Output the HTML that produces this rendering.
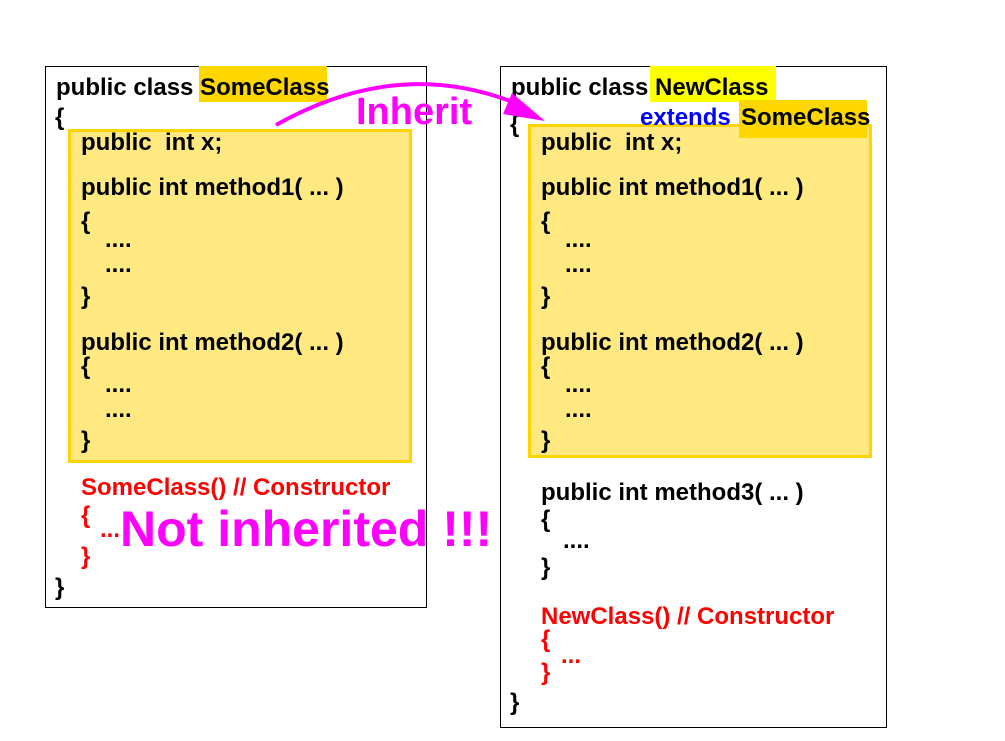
<!DOCTYPE html>
<html><head><meta charset="utf-8"><style>
body{margin:0;width:1005px;height:741px;background:#fff;position:relative;overflow:hidden;font-family:"Liberation Sans",Arial,sans-serif;font-weight:bold;}
.t{position:absolute;font-size:24px;line-height:24px;white-space:pre;color:#000;}
.r{color:#f00}
.box{position:absolute;border:1px solid #000;}
.y{position:absolute;background:#ffe980;border:3px solid #ffd400;box-sizing:border-box;}
.hl{position:absolute;}
</style></head><body>
<div class="box" style="left:45px;top:66px;width:380px;height:540px"></div>
<div class="box" style="left:500px;top:66px;width:385px;height:660px"></div>
<div class="hl" style="left:199px;top:66px;width:128px;height:36px;background:#ffd700"></div>
<div class="hl" style="left:650px;top:66px;width:126px;height:36px;background:#ffff00"></div>
<div class="y" style="left:68px;top:129px;width:344px;height:334px"></div>
<div class="y" style="left:528px;top:124px;width:344px;height:334px"></div>
<div class="hl" style="left:739px;top:100px;width:128px;height:38px;background:#ffd700"></div>

<div class="t" style="left:56px;top:76px">public class SomeClass</div>
<div class="t" style="left:55px;top:106px">{</div>
<div class="t" style="left:81px;top:131px">public  int x;</div>
<div class="t" style="left:81px;top:176px">public int method1( ... )</div>
<div class="t" style="left:81px;top:210px">{</div>
<div class="t" style="left:105px;top:228px">....</div>
<div class="t" style="left:105px;top:253px">....</div>
<div class="t" style="left:81px;top:285px">}</div>
<div class="t" style="left:81px;top:331px">public int method2( ... )</div>
<div class="t" style="left:81px;top:355px">{</div>
<div class="t" style="left:105px;top:373px">....</div>
<div class="t" style="left:105px;top:398px">....</div>
<div class="t" style="left:81px;top:429px">}</div>
<div class="t r" style="left:81px;top:476px">SomeClass() // Constructor</div>
<div class="t r" style="left:81px;top:504px">{</div>
<div class="t r" style="left:100px;top:518px">...</div>
<div class="t r" style="left:81px;top:545px">}</div>
<div class="t" style="left:55px;top:576px">}</div>

<div class="t" style="left:511px;top:76px">public class NewClass</div>
<div class="t" style="left:640px;top:106px;color:#0000ff">extends</div>
<div class="t" style="left:741px;top:106px">SomeClass</div>
<div class="t" style="left:510px;top:113px">{</div>
<div class="t" style="left:541px;top:131px">public  int x;</div>
<div class="t" style="left:541px;top:176px">public int method1( ... )</div>
<div class="t" style="left:541px;top:210px">{</div>
<div class="t" style="left:565px;top:228px">....</div>
<div class="t" style="left:565px;top:253px">....</div>
<div class="t" style="left:541px;top:285px">}</div>
<div class="t" style="left:541px;top:331px">public int method2( ... )</div>
<div class="t" style="left:541px;top:355px">{</div>
<div class="t" style="left:565px;top:373px">....</div>
<div class="t" style="left:565px;top:398px">....</div>
<div class="t" style="left:541px;top:429px">}</div>
<div class="t" style="left:541px;top:481px">public int method3( ... )</div>
<div class="t" style="left:541px;top:508px">{</div>
<div class="t" style="left:563px;top:529px">....</div>
<div class="t" style="left:541px;top:556px">}</div>
<div class="t r" style="left:541px;top:605px">NewClass() // Constructor</div>
<div class="t r" style="left:541px;top:628px">{</div>
<div class="t r" style="left:561px;top:644px">...</div>
<div class="t r" style="left:541px;top:661px">}</div>
<div class="t" style="left:510px;top:691px">}</div>

<svg style="position:absolute;left:0;top:0" width="1005" height="741">
<path d="M276,125 Q400,55 520,105" fill="none" stroke="#ff00ff" stroke-width="4"/>
<polygon points="545,121 512,93 503,114" fill="#ff00ff"/>
</svg>
<div class="t" style="left:356px;top:92px;font-size:38px;line-height:40px;color:#ff00ff">Inherit</div>
<div class="t" style="left:120px;top:502px;font-size:50px;line-height:54px;color:#ff00ff">Not inherited !!!</div>
</body></html>
